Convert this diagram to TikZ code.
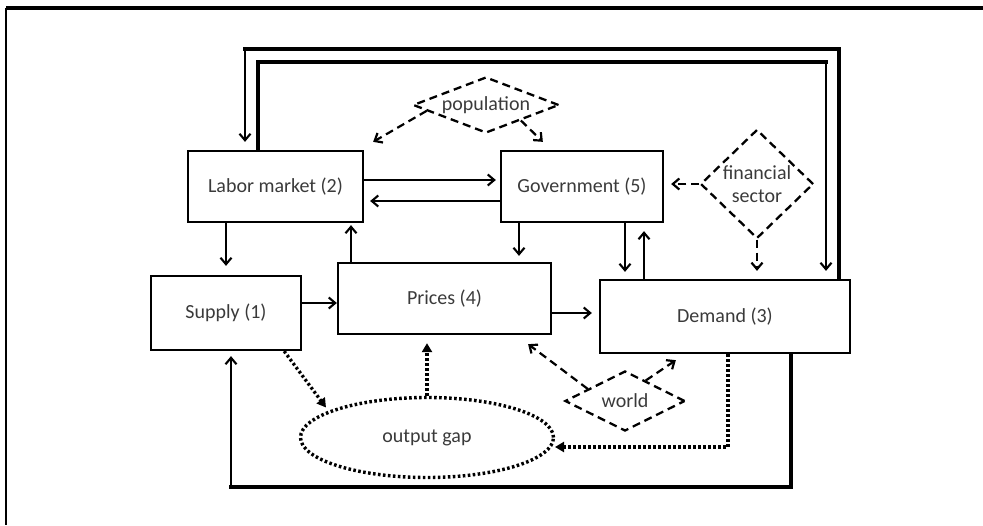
\documentclass[tikz,border=0pt]{standalone}
\usepackage{fontspec}
\setmainfont{Carlito}
\usetikzlibrary{arrows.meta,shapes.geometric,calc}
\definecolor{txtgray}{HTML}{3A3A3A}
\begin{document}
\begin{tikzpicture}[x=1pt,y=-1pt,
  txt/.style={text=txtgray,font=\fontsize{20}{23.5}\selectfont,inner sep=0pt},
  box/.style={draw,line width=2.3pt,rectangle,inner sep=0pt,txt},
  dia/.style={draw,diamond,inner sep=0pt,line width=2.3pt,dash pattern=on 8pt off 5pt},
  ell/.style={draw,ellipse,inner sep=0pt,line width=3.4pt,dash pattern=on 2.6pt off 2.4pt,txt},
  arr/.style={line width=2.1pt,-{Straight Barb[length=6.5pt,width=11pt]}},
  loopline/.style={line width=3.3pt,line cap=rect},
  dotarr/.style={line width=3.3pt,dash pattern=on 2.6pt off 2.4pt,-{Triangle[length=9pt,width=10pt]}},
  dasharr/.style={line width=2.2pt,dash pattern=on 8pt off 5pt,-{Straight Barb[length=6.5pt,width=11pt]}}
]
\useasboundingbox (0,0) rectangle (983,525);
% frame
\draw[line width=3.4pt] (6,8) -- (983,8);
\draw[line width=2.2pt] (6,8) -- (6,525);
% boxes
\node[box,minimum width=175,minimum height=71] (labor) at (275.5,186.5) {Labor market (2)};
\node[box,minimum width=162,minimum height=71] (gov) at (582,186.5) {Government (5)};
\node[box,minimum width=150,minimum height=74] (supply) at (226,313) {Supply (1)};
\node[box,minimum width=213,minimum height=71] (prices) at (444.5,298.5) {Prices (4)};
\node[box,minimum width=250,minimum height=73] (demand) at (725,316.5) {Demand (3)};
\node[dia,minimum width=146,minimum height=56,label={[txt]center:population}] (pop) at (486,105) {};
\node[dia,minimum width=113,minimum height=109,label={[txt,align=center]center:financial\\sector}] (fin) at (757,184) {};
\node[dia,minimum width=120,minimum height=60,label={[txt]center:world}] (world) at (625,401) {};
\node[ell,minimum width=253,minimum height=80] (gap) at (427,437.5) {output gap};
% solid arrows
\draw[arr,shorten >=4pt] (labor.east |- 0,180) -- (gov.west |- 0,180);
\draw[arr,shorten >=6pt] (gov.west |- 0,201) -- (labor.east |- 0,201);
\draw[arr,shorten >=9pt] (labor.south -| 226,0) -- (supply.north -| 226,0);
\draw[arr,shorten >=2pt] (prices.north -| 351,0) -- (labor.south -| 351,0);
\draw[arr] (supply.east |- 0,303) -- (prices.west |- 0,303);
\draw[arr,shorten >=6pt] (gov.south -| 519,0) -- (prices.north -| 519,0);
\draw[arr,shorten >=7pt] (gov.south -| 625,0) -- (demand.north -| 625,0);
\draw[arr,shorten >=8pt] (demand.north -| 644,0) -- (gov.south -| 644,0);
\draw[arr,shorten >=7pt] (prices.east |- 0,313) -- (demand.west |- 0,313);
% big loops
\coordinate (a1) at (839,49); \coordinate (a2) at (245,49);
\draw[loopline] (demand.north -| a1) -- (a1) -- (a2);
\draw[arr,shorten >=8pt] (a2) -- (labor.north -| a2);
\coordinate (b1) at (258,62); \coordinate (b2) at (826,62);
\draw[loopline] (labor.north -| b1) -- (b1) -- (b2);
\draw[arr,shorten >=8pt] (b2) -- (demand.north -| b2);
\coordinate (c1) at (791,487); \coordinate (c2) at (231,487);
\draw[loopline] (demand.south -| c1) -- (c1) -- (c2);
\draw[arr,shorten >=5pt] (c2) -- (supply.south -| c2);
% dotted
\draw[dotarr] ($(supply.south east)+(-18,0)$) -- ($(gap.center)+(-101,-30)$);
\draw[dotarr,shorten >=8pt] (gap.north) -- (gap.north |- prices.south);
\draw[dotarr] (demand.south -| 728,0) |- ($(gap.center)+(128,9.5)$);
% dashed
\draw[dasharr] ($(pop.west)!0.2!(pop.south)$) -- ($(labor.north east)+(9,-8)$);
\draw[dasharr] ($(pop.south)!0.47!(pop.east)$) -- ($(gov.north west)+(43,-8)$);
\draw[dasharr,shorten >=7pt] (fin.west) -- (fin.west -| gov.east);
\draw[dasharr,shorten >=8pt] (fin.south) -- (fin.south |- demand.north);
\draw[dasharr] ($(world.west)!0.39!(world.north)$) -- ($(prices.south east)+(-24,9)$);
\draw[dasharr] ($(world.north)!0.34!(world.east)$) -- ($(demand.south west)+(77,6)$);
\end{tikzpicture}
\end{document}
